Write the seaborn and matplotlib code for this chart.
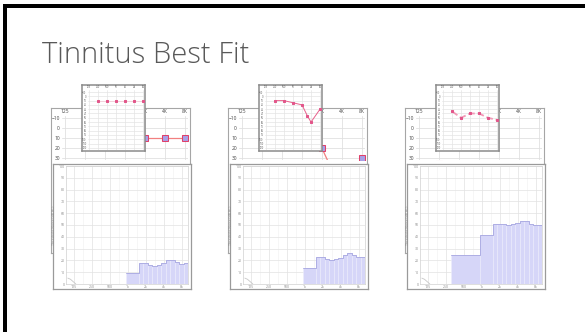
import numpy as np
import seaborn as sns
import matplotlib.pyplot as plt
from matplotlib.patches import Rectangle

sns.set_theme(style='white')
plt.rcParams['font.family'] = ['Open Sans', 'DejaVu Sans']

W, H = 585, 332

title = 'Tinnitus Best Fit'

# audiogram grid
aud_freqs = [125, 250, 500, 1000, 2000, 4000, 8000]
aud_labels = ['125', '250', '500', '1K', '2K', '4K', '8K']
back_labels = ['125', '', '', '', '2K', '4K', '8K']   # the rest sits under the inset
db_ticks = [-10, 0, 10, 20, 30, 40, 50, 60, 70, 80, 90, 100, 110, 120]

# patient thresholds (dB HL)
p1_freqs = [250, 500, 1000, 2000, 4000, 8000]
p1_db = [10, 10, 10, 10, 10, 10]
p2_freqs = [250, 500, 1000, 2000, 3000, 4000, 8000]
p2_db = [10, 10, 15, 20, 45, 60, 30]
p3_freqs = [250, 500, 1000, 2000, 4000, 8000]
p3_db = [35, 50, 40, 40, 50, 55]

# noise spectrum, band edges in octaves re 1 kHz, levels in dB
spec1_edges = [-0.1, 0.6, 0.85, 1.1, 1.35, 1.6, 1.85, 2.1, 2.35, 2.6, 2.85, 3.1, 3.35]
spec1_levels = [9, 17.5, 17.5, 16, 15.5, 16, 18, 20.5, 20, 19, 17, 17.5]
spec2_edges = [-0.1, 0.6, 0.85, 1.1, 1.35, 1.6, 1.85, 2.1, 2.35, 2.6, 2.85, 3.1, 3.35]
spec2_levels = [13.5, 22.5, 22.5, 21, 20.5, 21, 22, 24.5, 26, 25, 23, 22.5]
spec3_edges = [-1.75, -0.1, 0.6, 0.85, 1.1, 1.35, 1.6, 1.85, 2.1, 2.35, 2.6, 2.85, 3.1, 3.35]
spec3_levels = [24.5, 41.5, 51, 51, 51, 50, 50.5, 52, 53.5, 53, 51, 50, 50]
spec_ticks = ['125', '250', '500', '1k', '2k', '4k', '8k']

# little low-frequency blip in the corner
blip_x = [-3.35, -3.2, -3.05, -2.9]
blip_y = [5, 4, 2, 0]

panels = [
    (p1_freqs, p1_db, spec1_edges, spec1_levels, dict(color='#f7c8d6', lw=0.5, ls='-')),
    (p2_freqs, p2_db, spec2_edges, spec2_levels, dict(color='#e8608c', lw=0.7, ls='-')),
    (p3_freqs, p3_db, spec3_edges, spec3_levels, dict(color='#f29ab8', lw=1.3, ls='--')),
]
offsets = [0, 177, 354]


def rect(l, t, r, b):
    return [l / W, 1 - b / H, (r - l) / W, (b - t) / H]


def frame(r, color, lw):
    a = fig.add_axes(r)
    a.set_xticks([])
    a.set_yticks([])
    a.set_facecolor('white')
    for s in a.spines.values():
        s.set_color(color)
        s.set_linewidth(lw)
    return a


fig = plt.figure(figsize=(W / 100, H / 100), dpi=100)

fig.text(42 / W, 1 - 63 / H, title, fontsize=21, color='#595959',
         fontweight='light', va='baseline')

for (freqs, dbs, edges, levels, style), dx in zip(panels, offsets):
    oct_x = np.log2(np.array(freqs) / 125)

    # back audiogram window (mostly hidden)
    frame(rect(51 + dx, 108, 190 + dx, 253), '#a6a6a6', 0.8)
    ax = fig.add_axes(rect(62 + dx, 116, 188 + dx, 160))
    ax.patch.set_alpha(0)
    sns.lineplot(x=oct_x, y=dbs, ax=ax, color='#f28080', lw=0.9, marker='s',
                 markersize=4, markerfacecolor='#a8a0e8', markeredgecolor='#e0406a')
    ax.set_xlim(-0.15, 6.15)
    ax.set_ylim(31.5, -12)
    ax.set_xticks(range(7))
    ax.set_xticklabels(back_labels)
    ax.set_yticks([-10, 0, 10, 20, 30])
    ax.xaxis.tick_top()
    ax.tick_params(labelsize=3.5, colors='#444444', length=0, pad=1.5)
    ax.grid(True, color='#e0e0e0', lw=0.6)
    ax.set_xlabel('')
    ax.set_ylabel('')
    for s in ax.spines.values():
        s.set_visible(False)

    # noise spectrum window
    frame(rect(53 + dx, 164, 191 + dx, 289), '#9a9a9a', 0.9)
    sx = fig.add_axes(rect(66 + dx, 166, 188 + dx, 284))
    centers = [(a + b) / 2 for a, b in zip(edges[:-1], edges[1:])]
    sns.histplot(x=centers, weights=levels, bins=edges, ax=sx, color='#d6d6f8',
                 alpha=1, edgecolor='#ececfc', linewidth=0.4)
    sns.histplot(x=centers, weights=levels, bins=edges, ax=sx, element='step',
                 fill=False, color='#a4a4e0', linewidth=0.6)
    sns.lineplot(x=blip_x, y=blip_y, ax=sx, color='#c8c8c8', lw=0.6)
    sx.set_xlim(-3.45, 3.35)
    sx.set_ylim(0, 100)
    sx.set_xticks(range(-3, 4))
    sx.set_xticklabels(spec_ticks)
    sx.set_xticks(np.arange(-2.5, 3.5, 1), minor=True)
    sx.set_yticks(range(0, 101, 10))
    sx.tick_params(labelsize=2.5, colors='#888888', length=0, pad=1)
    sx.grid(True, which='major', color='#e2e2e2', lw=0.5)
    sx.grid(True, which='minor', axis='x', color='#efefef', lw=0.4)
    sx.set_axisbelow(True)
    sx.set_xlabel('')
    sx.set_ylabel('Threshold Noise (dB HL)', fontsize=2.5, color='#888888', labelpad=1.5)
    for s in sx.spines.values():
        s.set_color('#d0d0d0')
        s.set_linewidth(0.5)

    # inset audiogram on top
    frame(rect(82 + dx, 85, 145 + dx, 151), '#8c8c8c', 1.1)
    ix = fig.add_axes(rect(88 + dx, 90, 144 + dx, 150))
    ix.patch.set_alpha(0)
    sns.lineplot(x=oct_x, y=dbs, ax=ix, color=style['color'], lw=style['lw'],
                 linestyle=style['ls'], marker='s', markersize=2,
                 markerfacecolor='#e2568a', markeredgecolor='#e2568a')
    ix.set_xlim(-0.11, 6.11)
    ix.set_ylim(125, -14.7)
    ix.set_xticks(range(7))
    ix.set_xticklabels(aud_labels)
    ix.set_yticks(db_ticks)
    ix.xaxis.tick_top()
    ix.tick_params(labelsize=1.8, colors='#555555', length=0, pad=1)
    ix.grid(True, color='#e4e4e4', lw=0.5)
    ix.set_xlabel('')
    ix.set_ylabel('')
    for s in ix.spines.values():
        s.set_visible(False)

# slide border (left and top edges)
fig.add_artist(Rectangle((3 / W, 0), 4 / W, 1 - 4 / H, transform=fig.transFigure,
                         color='black', lw=0))
fig.add_artist(Rectangle((3 / W, 1 - 8 / H), 1 - 3 / W, 4 / H, transform=fig.transFigure,
                         color='black', lw=0))

fig.savefig('out.png', dpi=100)
